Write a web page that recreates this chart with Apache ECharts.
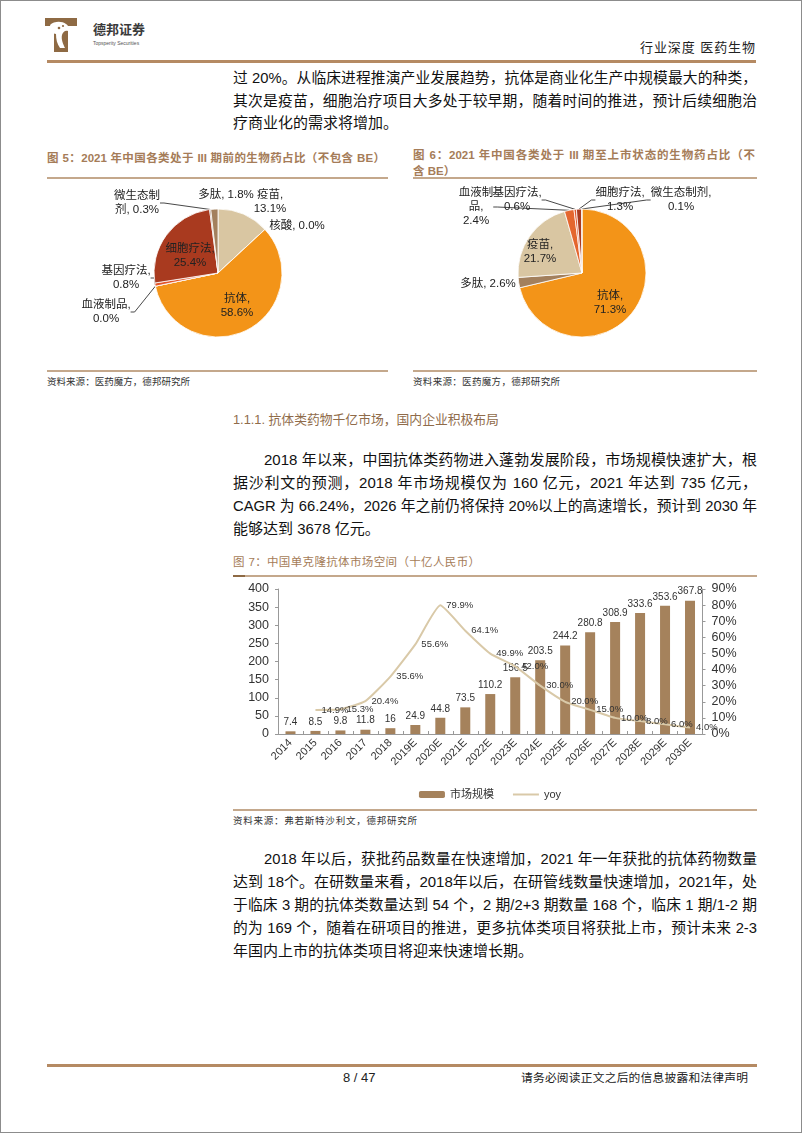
<!DOCTYPE html>
<html><head><meta charset="utf-8">
<script src="https://cdn.jsdelivr.net/npm/echarts@6/dist/echarts.min.js"></script>
<style>
html,body{margin:0;padding:0;background:#fff;}
#page{position:relative;width:802px;height:1133px;overflow:hidden;font-family:"Liberation Sans","Noto Sans CJK SC",sans-serif;color:#111;background:#fff;}
.frame{position:absolute;left:0;top:0;right:0;bottom:0;border:1px solid #8c8c8c;pointer-events:none;}
.t{position:absolute;line-height:20px;height:20px;overflow:visible;white-space:nowrap;}
.j{text-align:justify;text-align-last:justify;white-space:normal;}
.b15{font-size:15px;}
.rule{position:absolute;}
.cap{font-size:11.5px;color:#a57c58;font-weight:bold;}
.src{font-size:9.5px;color:#333;}
.chart{position:absolute;}
</style></head>
<body>
<div id="page">
  <svg style="position:absolute;left:44px;top:17px" width="34" height="36" viewBox="0 0 34 36">
    <path d="M1 1 H33 V9 H24 V35 H10 V9 H1 Z" fill="#8e6a44"/>
    <path d="M6 8 C10 4 18 4 22 7 C25 9 26 12 24 14 C21 13 19 15 18 18 C17 22 19 27 21 31 L16 31 C13 27 12 22 12 17 C9 17 7 14 6 8 Z" fill="#fff"/>
    <circle cx="4" cy="14" r="1.6" fill="#fff"/><circle cx="8" cy="20" r="1.4" fill="#fff"/>
    <circle cx="15" cy="11" r="1.3" fill="#8e6a44"/><circle cx="19" cy="9" r="1.1" fill="#8e6a44"/>
  </svg>
  <div class="t j" style="left:93px;top:20px;width:52px;font-size:13px;font-weight:bold;color:#3a3a3a;">德邦证券</div>
  <div class="t" style="left:93px;top:33px;font-size:5px;color:#555;">Topsperity Securities</div>
  <div class="t j" style="left:640px;top:38px;width:115px;font-size:13px;color:#222;">行业深度 医药生物</div>
  <div class="rule" style="left:47px;top:60px;width:709px;height:2.5px;background:#b58a63;"></div>

  <div class="t j b15" style="left:233px;top:68px;width:524px;">过 20%。从临床进程推演产业发展趋势，抗体是商业化生产中规模最大的种类，</div>
  <div class="t j b15" style="left:233px;top:91px;width:524px;">其次是疫苗，细胞治疗项目大多处于较早期，随着时间的推进，预计后续细胞治</div>
  <div class="t b15" style="left:233px;top:113px;">疗商业化的需求将增加。</div>

  <div class="t j cap" style="left:47px;top:148px;width:338px;">图 5：2021 年中国各类处于 III 期前的生物药占比（不包含 BE）</div>
  <div class="t j cap" style="left:413px;top:145px;width:342px;">图 6：2021 年中国各类处于 III 期至上市状态的生物药占比（不</div>
  <div class="t cap" style="left:413px;top:161px;">含 BE）</div>
  <div class="rule" style="left:47px;top:177px;width:341px;height:1.5px;background:#c4a88c;"></div>
  <div class="rule" style="left:413px;top:177px;width:344px;height:1.5px;background:#c4a88c;"></div>

  <div id="pie1" class="chart" style="left:47px;top:180px;width:345px;height:188px;"></div>
  <div id="pie2" class="chart" style="left:413px;top:180px;width:345px;height:188px;"></div>

  <div class="rule" style="left:47px;top:370px;width:341px;height:1.5px;background:#c4a88c;"></div>
  <div class="rule" style="left:413px;top:370px;width:344px;height:1.5px;background:#c4a88c;"></div>
  <div class="t j src" style="left:47px;top:372px;width:143px;">资料来源：医药魔方，德邦研究所</div>
  <div class="t j src" style="left:413px;top:372px;width:147px;">资料来源：医药魔方，德邦研究所</div>

  <div class="t" style="left:233px;top:410px;font-size:12.8px;color:#8f6b4a;">1.1.1. 抗体类药物千亿市场，国内企业积极布局</div>

  <div class="t j b15" style="left:264px;top:450px;width:493px;">2018 年以来，中国抗体类药物进入蓬勃发展阶段，市场规模快速扩大，根</div>
  <div class="t j b15" style="left:233px;top:473px;width:524px;">据沙利文的预测，2018 年市场规模仅为 160 亿元，2021 年达到 735 亿元，</div>
  <div class="t j b15" style="left:233px;top:496px;width:524px;">CAGR 为 66.24%，2026 年之前仍将保持 20%以上的高速增长，预计到 2030 年</div>
  <div class="t b15" style="left:233px;top:519px;">能够达到 3678 亿元。</div>

  <div class="t j" style="left:233px;top:552px;width:247px;font-size:11.5px;color:#a57c58;">图 7：中国单克隆抗体市场空间（十亿人民币）</div>
  <div class="rule" style="left:233px;top:575px;width:524px;height:1.5px;background:#c4a88c;"></div>
  <div class="rule" style="left:233px;top:575px;width:12px;height:2px;background:#8e6a44;"></div>

  <div id="bar" class="chart" style="left:225px;top:580px;width:530px;height:228px;"></div>

  <div class="rule" style="left:233px;top:809px;width:524px;height:1.5px;background:#c4a88c;"></div>
  <div class="t j src" style="left:233px;top:811px;width:184px;">资料来源：弗若斯特沙利文，德邦研究所</div>

  <div class="t j b15" style="left:264px;top:849px;width:493px;">2018 年以后，获批药品数量在快速增加，2021 年一年获批的抗体药物数量</div>
  <div class="t j b15" style="left:233px;top:872px;width:524px;">达到 18个。在研数量来看，2018年以后，在研管线数量快速增加，2021年，处</div>
  <div class="t j b15" style="left:233px;top:895px;width:524px;">于临床 3 期的抗体类数量达到 54 个，2 期/2+3 期数量 168 个，临床 1 期/1-2 期</div>
  <div class="t j b15" style="left:233px;top:918px;width:524px;">的为 169 个，随着在研项目的推进，更多抗体类项目将获批上市，预计未来 2-3</div>
  <div class="t b15" style="left:233px;top:941px;">年国内上市的抗体类项目将迎来快速增长期。</div>

  <div class="rule" style="left:47px;top:1064px;width:710px;height:2.5px;background:#b58a63;"></div>
  <div class="t" style="left:343px;top:1068px;font-size:13px;color:#222;">8 / 47</div>
  <div class="t j" style="left:521px;top:1068px;width:227px;font-size:12px;color:#222;">请务必阅读正文之后的信息披露和法律声明</div>
  <div class="frame"></div>
</div>
<script>
// ---------- data ----------
const pie1Names = ['疫苗', '核酸', '抗体', '血液制品', '基因疗法', '细胞疗法', '微生态制剂', '多肽'];
const pie1Values = [13.1, 0.0, 58.6, 0.0, 0.8, 25.4, 0.3, 1.8];
const pie2Names = ['抗体', '多肽', '疫苗', '血液制品', '基因疗法', '细胞疗法', '微生态制剂'];
const pie2Values = [71.3, 2.6, 21.7, 2.4, 0.6, 1.3, 0.1];
const years = ['2014', '2015', '2016', '2017', '2018', '2019E', '2020E', '2021E', '2022E', '2023E', '2024E', '2025E', '2026E', '2027E', '2028E', '2029E', '2030E'];
const marketSize = [7.4, 8.5, 9.8, 11.8, 16, 24.9, 44.8, 73.5, 110.2, 156.5, 203.5, 244.2, 280.8, 308.9, 333.6, 353.6, 367.8];
const yoy = [null, 14.9, 15.3, 20.4, 35.6, 55.6, 79.9, 64.1, 49.9, 42.0, 30.0, 20.0, 15.0, 10.0, 8.0, 6.0, 4.0];
const seriesNames = ['市场规模', 'yoy'];

// ---------- text fitting: shrink a justified line until it stays on one line ----------
document.querySelectorAll('.j').forEach(el => {
  let fs = parseFloat(getComputedStyle(el).fontSize);
  while (el.scrollHeight > 24 && fs > 5) { fs -= 0.25; el.style.fontSize = fs + 'px'; }
});

// ---------- styles ----------
const catColor = {
  '抗体': '#F39418', '疫苗': '#D9C6A2', '多肽': '#A3805D', '细胞疗法': '#A93A1F',
  '基因疗法': '#E2552A', '血液制品': '#E4662E', '微生态制剂': '#7A4526', '核酸': '#C9B08A'
};
const labelFmt = {
  '微生态制剂': ['微生态制\n剂, ', '微生态制剂,\n'],
  '血液制品': ['血液制品,\n', '血液制\n品,\n'],
  '基因疗法': ['基因疗法,\n', '基因疗法,\n'],
  '细胞疗法': ['细胞疗法,\n', '细胞疗法,\n'],
  '疫苗': ['疫苗,\n', '疫苗,\n'],
  '抗体': ['抗体,\n', '抗体,\n'],
  '多肽': ['多肽, ', '多肽, '],
  '核酸': ['核酸, ', '核酸, ']
};
// label anchor positions (chart-local px)
const pos1 = {'疫苗': [223, 22], '核酸': [250, 46], '抗体': [190, 126], '血液制品': [59, 132], '基因疗法': [79, 98], '细胞疗法': [143, 76], '微生态制剂': [90, 23], '多肽': [179, 15]};
const pos2 = {'抗体': [197, 123], '多肽': [75, 104], '疫苗': [127, 72], '血液制品': [63, 27], '基因疗法': [104, 20], '细胞疗法': [207, 20], '微生态制剂': [268, 20]};
const lines1 = ['微生态制剂', '基因疗法', '血液制品'];
const lines2 = ['血液制品', '基因疗法', '细胞疗法', '微生态制剂'];

function pieOption(names, values, center, pos, withLines, fmtIdx) {
  return {
    animation: false,
    series: [{
      type: 'pie', center: center, radius: 64, startAngle: 90, clockwise: true,
      avoidLabelOverlap: false,
      itemStyle: {borderColor: '#fff', borderWidth: 0.8},
      label: {
        show: true, position: 'outside', color: '#222', fontSize: 11.5, lineHeight: 14,
        fontFamily: 'Liberation Sans, Noto Sans CJK SC', align: 'center',
        formatter: p => labelFmt[p.name][fmtIdx] + p.value.toFixed(1) + '%'
      },
      labelLine: {show: true, length: 4, length2: 4, lineStyle: {color: '#333', width: 0.9}},
      labelLayout: p => {
        const xy = pos[names[p.dataIndex]];
        return {x: xy[0], y: xy[1], align: 'center', verticalAlign: 'middle'};
      },
      data: names.map((n, i) => ({
        name: n, value: values[i], itemStyle: {color: catColor[n]},
        labelLine: {show: withLines.indexOf(n) >= 0}
      }))
    }]
  };
}

echarts.init(document.getElementById('pie1')).setOption(pieOption(pie1Names, pie1Values, [171, 93], pos1, lines1, 0));
echarts.init(document.getElementById('pie2')).setOption(pieOption(pie2Names, pie2Values, [169, 93], pos2, lines2, 1));

const axisTxt = {color: '#333', fontFamily: 'Liberation Sans'};
echarts.init(document.getElementById('bar')).setOption({
  animation: false,
  textStyle: {fontFamily: 'Liberation Sans, Noto Sans CJK SC'},
  grid: {left: 53, right: 52.5, top: 9, bottom: 74},
  legend: {
    data: [{name: seriesNames[0]}, {name: seriesNames[1], itemStyle: {opacity: 0}}],
    top: 204, left: 'center', itemWidth: 26, itemHeight: 7, itemGap: 18,
    textStyle: {fontSize: 11, color: '#333'}
  },
  xAxis: {
    type: 'category', data: years,
    axisLine: {lineStyle: {color: '#999'}},
    axisTick: {show: true, inside: true, length: 3, lineStyle: {color: '#999'}},
    axisLabel: Object.assign({rotate: 45, interval: 0, fontSize: 11, margin: 7}, axisTxt)
  },
  yAxis: [{
    type: 'value', min: 0, max: 400, interval: 50,
    axisLine: {show: true, lineStyle: {color: '#999'}},
    axisTick: {show: true, length: 3, lineStyle: {color: '#999'}},
    splitLine: {show: false},
    axisLabel: Object.assign({fontSize: 12.5, margin: 9}, axisTxt)
  }, {
    type: 'value', min: 0, max: 90, interval: 10, position: 'right',
    axisLine: {show: true, lineStyle: {color: '#999'}},
    axisTick: {show: true, length: 3, lineStyle: {color: '#999'}},
    splitLine: {show: false},
    axisLabel: Object.assign({fontSize: 12.5, margin: 9, formatter: '{value}%'}, axisTxt)
  }],
  series: [{
    name: seriesNames[0], type: 'bar', data: marketSize, barWidth: 10,
    itemStyle: {color: '#A5825C'},
    label: {show: true, position: 'top', distance: 4, fontSize: 10, color: '#333'}
  }, {
    name: seriesNames[1], type: 'line', yAxisIndex: 1, data: yoy, smooth: 0.15,
    symbol: 'circle', symbolSize: 0.01, showSymbol: true, connectNulls: false,
    lineStyle: {color: '#D9C9A8', width: 2}, itemStyle: {color: '#D9C9A8'},
    label: {show: true, position: 'right', distance: 6, fontSize: 9.5, color: '#333',
      formatter: p => p.value == null ? '' : p.value.toFixed(1) + '%'}
  }]
});
</script>
</body></html>
